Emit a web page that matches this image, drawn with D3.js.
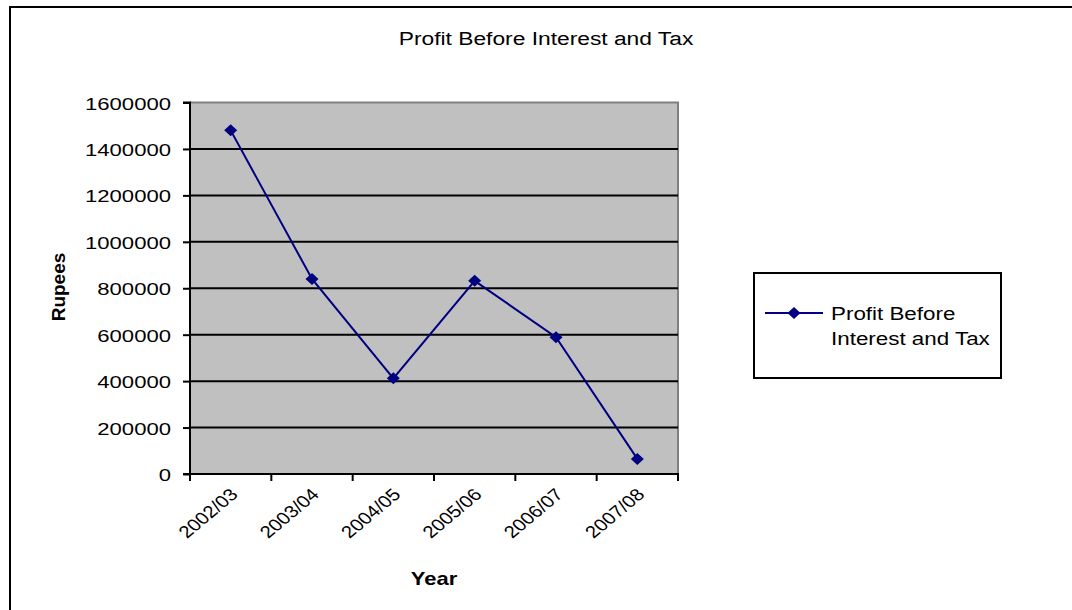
<!DOCTYPE html>
<html>
<head>
<meta charset="utf-8">
<script src="https://cdn.jsdelivr.net/npm/d3@7"></script>
<style>
  html, body { margin: 0; padding: 0; background: #fff; }
  svg { display: block; }
  text { font-family: "Liberation Sans", Arial, sans-serif; fill: #000; }
</style>
</head>
<body>
<svg id="chart" width="1072" height="610"></svg>
<script>
// Profit before interest and tax, by financial year
const years = ["2002/03", "2003/04", "2004/05", "2005/06", "2006/07", "2007/08"];
const profit = [1480000, 840000, 412000, 832000, 589000, 65000];
const yTicks = [0, 200000, 400000, 600000, 800000, 1000000, 1200000, 1400000, 1600000];
const seriesName = ["Profit Before", "Interest and Tax"];

const svg = d3.select("#chart");
const plot = { left: 190, right: 678, top: 102.5, bottom: 474 };

// outer chart frame (runs past the right and bottom edges)
svg.append("rect")
  .attr("x", 10).attr("y", 7)
  .attr("width", 1100).attr("height", 650)
  .attr("fill", "#fff").attr("stroke", "#000").attr("stroke-width", 2);

const x = d3.scaleBand().domain(years).range([plot.left, plot.right]).padding(0);
const y = d3.scaleLinear().domain([0, 1600000]).range([plot.bottom, plot.top]);

// plot area
svg.append("rect")
  .attr("x", plot.left).attr("y", plot.top)
  .attr("width", plot.right - plot.left).attr("height", plot.bottom - plot.top)
  .attr("fill", "#c0c0c0");

// gray top / right border of plot area
svg.append("path")
  .attr("d", `M${plot.left},${plot.top}H${plot.right}V${plot.bottom}`)
  .attr("fill", "none").attr("stroke", "#808080").attr("stroke-width", 2);

// horizontal gridlines
svg.append("g").selectAll("line")
  .data(yTicks.filter(v => v > 0 && v < 1600000))
  .join("line")
  .attr("x1", plot.left).attr("x2", plot.right)
  .attr("y1", d => y(d)).attr("y2", d => y(d))
  .attr("stroke", "#000").attr("stroke-width", 2);

// y axis
const yAxis = d3.axisLeft(y).tickValues(yTicks).tickSize(7).tickPadding(10).tickFormat(d3.format("d"));
const gy = svg.append("g").attr("transform", `translate(${plot.left},0)`).call(yAxis);
gy.select(".domain").attr("stroke", "#000").attr("stroke-width", 2).attr("d", `M-7,${plot.top}H0V${plot.bottom}H-7`);
gy.selectAll(".tick line").attr("stroke", "#000").attr("stroke-width", 2);
gy.selectAll(".tick text")
  .attr("x", null).attr("dy", null)
  .style("font-size", "17px")
  .attr("text-anchor", "end")
  .attr("transform", `translate(-19,6.5) scale(1.3,1)`);

// x axis: ticks on category boundaries
const bounds = d3.range(years.length + 1).map(i => plot.left + i * x.bandwidth());
svg.append("line")
  .attr("x1", plot.left - 1).attr("x2", plot.right + 1)
  .attr("y1", plot.bottom).attr("y2", plot.bottom)
  .attr("stroke", "#000").attr("stroke-width", 2);
svg.append("g").selectAll("line").data(bounds).join("line")
  .attr("x1", d => d).attr("x2", d => d)
  .attr("y1", plot.bottom).attr("y2", plot.bottom + 7)
  .attr("stroke", "#000").attr("stroke-width", 2);

// rotated category labels (widened horizontally after rotation)
svg.append("g").selectAll("text").data(years).join("text")
  .attr("transform", d => `translate(${x(d) + x.bandwidth() / 2 - 2},${plot.bottom + 13}) scale(1.2,1) rotate(-45)`)
  .attr("text-anchor", "end")
  .attr("dy", "0.72em")
  .style("font-size", "17px")
  .text(d => d);

// series line
const cx = d => x(d) + x.bandwidth() / 2;
const line = d3.line().x((d, i) => cx(years[i])).y(d => y(d));
svg.append("path")
  .datum(profit)
  .attr("d", line)
  .attr("fill", "none").attr("stroke", "#000080").attr("stroke-width", 2);

const diamond = "M0,-6L6.5,0L0,6L-6.5,0Z";
svg.append("g").selectAll("path").data(profit).join("path")
  .attr("d", diamond)
  .attr("transform", (d, i) => `translate(${cx(years[i])},${y(d)})`)
  .attr("fill", "#000080");

// title
svg.append("text")
  .attr("transform", `translate(546,45) scale(1.2,1)`)
  .attr("text-anchor", "middle")
  .style("font-size", "19px")
  .text("Profit Before Interest and Tax");

// axis titles
svg.append("text")
  .attr("transform", `translate(434,585) scale(1.22,1)`)
  .attr("text-anchor", "middle")
  .style("font-size", "18px").style("font-weight", "bold")
  .text("Year");

svg.append("text")
  .attr("transform", `translate(65,287) rotate(-90)`)
  .attr("text-anchor", "middle")
  .style("font-size", "19px").style("font-weight", "bold")
  .text("Rupees");

// legend
const lg = svg.append("g");
lg.append("rect")
  .attr("x", 754).attr("y", 273).attr("width", 247).attr("height", 105)
  .attr("fill", "#fff").attr("stroke", "#000").attr("stroke-width", 2);
lg.append("line")
  .attr("x1", 765).attr("x2", 823).attr("y1", 313).attr("y2", 313)
  .attr("stroke", "#000080").attr("stroke-width", 2);
lg.append("path").attr("d", diamond).attr("transform", "translate(794,313)").attr("fill", "#000080");
lg.selectAll("text.lbl").data(seriesName).join("text")
  .attr("class", "lbl")
  .attr("transform", (d, i) => `translate(831,${320 + i * 25}) scale(1.28,1)`)
  .style("font-size", "17.5px")
  .text(d => d);
</script>
</body>
</html>
